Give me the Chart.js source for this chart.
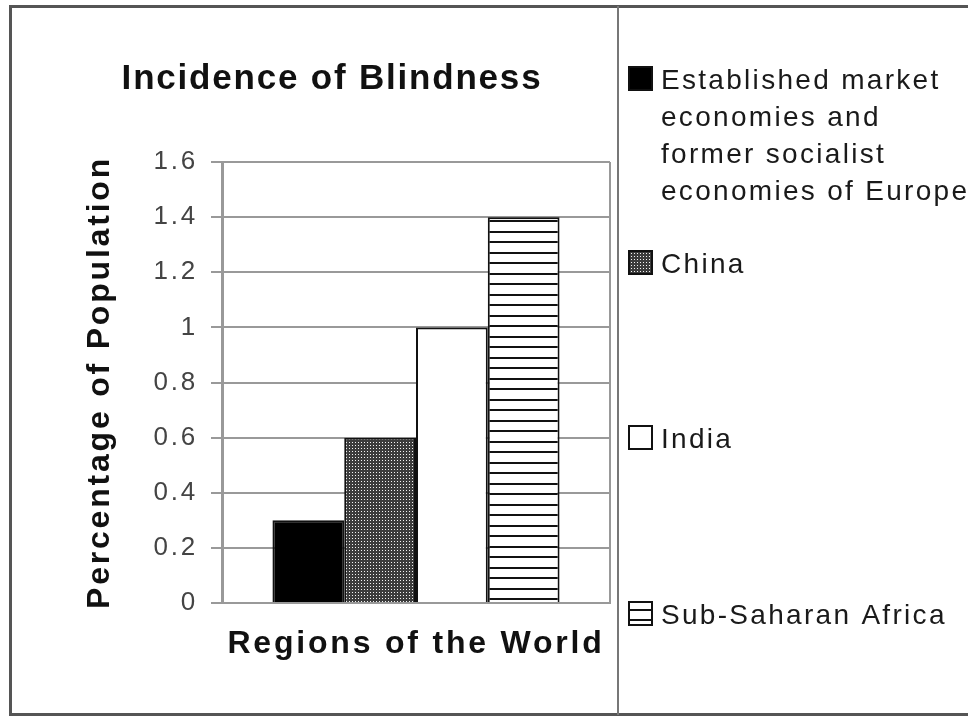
<!DOCTYPE html>
<html>
<head>
<meta charset="utf-8">
<title>Incidence of Blindness</title>
<script src="https://cdn.jsdelivr.net/npm/chart.js@4.4.1/dist/chart.umd.min.js"></script>
<style>
  html, body { margin: 0; padding: 0; background: #fff; }
  #wrap { width: 968px; height: 717px; }
</style>
</head>
<body>
<div id="wrap"><canvas id="chart" width="968" height="717"></canvas></div>
<script>
// data
const categories = [''];
const regions = [
  'Established market\neconomies and\nformer socialist\neconomies of Europe',
  'China',
  'India',
  'Sub-Saharan Africa'
];
const blindness = [0.3, 0.6, 1, 1.4];
const yTickValues = [0, 0.2, 0.4, 0.6, 0.8, 1, 1.2, 1.4, 1.6];

const chartTitle = 'Incidence of Blindness';
const yTitle = 'Percentage of Population';
const xTitle = 'Regions of the World';

const FONT = '"Liberation Sans", Arial, Helvetica, sans-serif';

// fills: solid, dotted, plain, striped
function dotPattern() {
  const c = document.createElement('canvas');
  c.width = 3; c.height = 3;
  const g = c.getContext('2d');
  g.fillStyle = '#3c3c3c';
  g.fillRect(0, 0, 3, 3);
  g.fillStyle = '#f4f4f4';
  g.fillRect(1, 1, 1, 1);
  return g.createPattern(c, 'repeat');
}

function stripePattern() {
  const c = document.createElement('canvas');
  c.width = 8; c.height = 21;
  const g = c.getContext('2d');
  g.fillStyle = '#fff';
  g.fillRect(0, 0, 8, 21);
  g.fillStyle = '#111';
  g.fillRect(0, 0, 8, 2);
  g.fillRect(0, 10, 8, 2);
  return g.createPattern(c, 'repeat');
}

const ctx0 = document.getElementById('chart').getContext('2d');
const fills = ['#000', dotPattern(), '#fff', stripePattern()];

// centre of each side legend row
const legendRowY = [78, 262, 437, 613];

const framePlugin = {
  id: 'frame',
  beforeDraw(chart) {
    const ctx = chart.ctx;
    ctx.save();
    ctx.fillStyle = '#fff';
    ctx.fillRect(0, 0, chart.width, chart.height);
    ctx.strokeStyle = '#555';
    ctx.lineWidth = 3;
    ctx.strokeRect(10.5, 6.5, chart.width + 10, 708);
    ctx.strokeStyle = '#777';
    ctx.lineWidth = 2;
    ctx.beginPath();
    ctx.moveTo(618, 6);
    ctx.lineTo(618, 715);
    ctx.stroke();
    ctx.restore();
    // the original text is loosely spaced
    ctx.letterSpacing = '2.8px';
  },
  afterDraw(chart) {
    const ctx = chart.ctx;
    const a = chart.chartArea;
    ctx.save();
    // right edge of the plot box
    ctx.strokeStyle = '#999';
    ctx.lineWidth = 2;
    ctx.beginPath();
    ctx.moveTo(a.right, a.top);
    ctx.lineTo(a.right, a.bottom);
    ctx.stroke();

    // chart title
    ctx.fillStyle = '#111';
    ctx.font = 'bold 35px ' + FONT;
    ctx.letterSpacing = '1.8px';
    ctx.textAlign = 'center';
    ctx.textBaseline = 'alphabetic';
    ctx.fillText(chartTitle, 332, 89);

    // side legend
    ctx.textAlign = 'left';
    ctx.font = '28px ' + FONT;
    ctx.letterSpacing = '2.3px';
    chart.data.datasets.forEach((ds, i) => {
      const y = legendRowY[i];
      ctx.fillStyle = ds.backgroundColor;
      ctx.fillRect(628, y - 12, 25, 25);
      ctx.lineWidth = 2;
      ctx.strokeStyle = '#111';
      ctx.strokeRect(629, y - 11, 23, 23);
      ctx.fillStyle = '#1a1a1a';
      ds.label.split('\n').forEach((line, k) => {
        ctx.fillText(line, 661, y + 11 + k * 37);
      });
    });
    ctx.restore();
  }
};

new Chart(ctx0, {
  type: 'bar',
  data: {
    labels: categories,
    datasets: regions.map((r, i) => ({
      label: r,
      data: [blindness[i]],
      backgroundColor: fills[i],
      borderColor: '#111',
      borderWidth: 2,
      categoryPercentage: 0.74,
      barPercentage: 1
    }))
  },
  options: {
    responsive: false,
    animation: false,
    layout: { padding: { left: 77, right: 358, top: 162, bottom: 50 } },
    plugins: {
      legend: { display: false },
      title: { display: false },
      tooltip: { enabled: false }
    },
    scales: {
      x: {
        grid: { display: false },
        border: { color: '#999', width: 2 },
        ticks: { display: false },
        title: {
          display: true,
          text: xTitle,
          color: '#111',
          font: { family: FONT, size: 32, weight: 'bold' }
        },
        afterFit(scale) { scale.height = 64; }
      },
      y: {
        min: 0,
        max: 1.6,
        afterBuildTicks(scale) {
          scale.ticks = yTickValues.map(v => ({ value: v }));
        },
        grid: { color: '#999', lineWidth: 2, tickLength: 11 },
        border: { color: '#999', width: 3 },
        ticks: {
          color: '#444',
          padding: 13,
          font: { family: FONT, size: 26 },
          callback: v => String(v)
        },
        title: {
          display: true,
          text: yTitle,
          color: '#111',
          font: { family: FONT, size: 32, weight: 'bold' }
        },
        afterFit(scale) { scale.width = 145; }
      }
    }
  },
  plugins: [framePlugin]
});
</script>
</body>
</html>
